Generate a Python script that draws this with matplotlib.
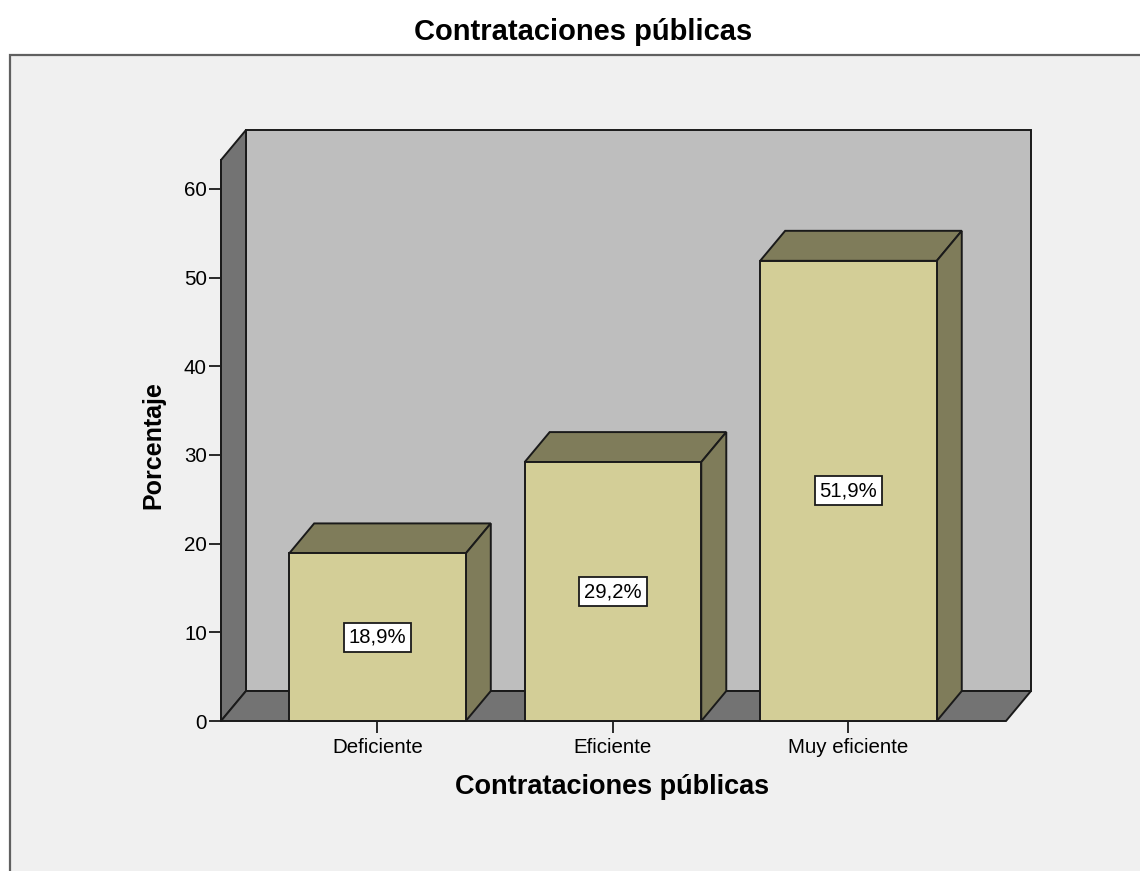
import matplotlib
matplotlib.use("Agg")
import matplotlib.pyplot as plt
from matplotlib.patches import Polygon, Rectangle

# values
categories = ["Deficiente", "Eficiente", "Muy eficiente"]
percentages = [18.9, 29.2, 51.9]
bar_labels = ["18,9%", "29,2%", "51,9%"]
y_ticks = [0, 10, 20, 30, 40, 50, 60]
title = "Contrataciones públicas"
x_label = "Contrataciones públicas"
y_label = "Porcentaje"

W, H = 1140, 871
wall = "#bebebe"
floor = "#737373"
front = "#d3ce97"
side = "#7f7c5a"
panel = "#f0f0f0"
edge = "#1a1a1a"

plt.rcParams["font.family"] = ["Liberation Sans", "DejaVu Sans"]

fig = plt.figure(figsize=(W / 100, H / 100), dpi=100, facecolor="white")

# grey panel behind the chart, cut off by the right and bottom of the image
bg = fig.add_axes([0, 0, 1, 1])
bg.set_xlim(0, W)
bg.set_ylim(H, 0)
bg.axis("off")
bg.add_patch(Rectangle((10, 55), W + 20, H, fc=panel, ec="#606060", lw=1.6))

# axes is the front plane of the 3d box
left, right, bottom, top = 221, 1006, 721, 160
ax = fig.add_axes([left / W, 1 - bottom / H, (right - left) / W, (bottom - top) / H])
ax.patch.set_alpha(0)
ax.set_xlim(-0.6645, 2.669)
ax.set_ylim(0, 63.27)
for s in ["top", "right", "bottom"]:
    ax.spines[s].set_visible(False)
ax.spines["left"].set_color(edge)
ax.spines["left"].set_linewidth(1.4)

dx = 25 / 235.5
dy = 30 / 8.867
x0, x1 = ax.get_xlim()
y0, y1 = ax.get_ylim()


def poly(pts, color, z=1):
    ax.add_patch(Polygon(pts, closed=True, fc=color, ec=edge, lw=1.4, clip_on=False, zorder=z))


# back wall, left wall, floor
poly([(x0 + dx, y0 + dy), (x1 + dx, y0 + dy), (x1 + dx, y1 + dy), (x0 + dx, y1 + dy)], wall)
poly([(x0, y0), (x0 + dx, y0 + dy), (x0 + dx, y1 + dy), (x0, y1)], floor)
poly([(x0, y0), (x1, y0), (x1 + dx, y0 + dy), (x0 + dx, y0 + dy)], floor)

bar_w = 0.75
for i, v in enumerate(percentages):
    a, b = i - bar_w / 2, i + bar_w / 2
    poly([(a, v), (b, v), (b + dx, v + dy), (a + dx, v + dy)], side, 3)
    poly([(b, 0), (b + dx, dy), (b + dx, v + dy), (b, v)], side, 3)
    poly([(a, 0), (b, 0), (b, v), (a, v)], front, 3)
    ax.text(i, v / 2, bar_labels[i], ha="center", va="center", fontsize=14.6, color="black", zorder=5,
            bbox=dict(boxstyle="square,pad=0.25", fc="white", ec=edge, lw=1.3))

ax.set_yticks(y_ticks)
ax.set_xticks(range(len(categories)))
ax.set_xticklabels(categories)
ax.tick_params(axis="y", labelsize=14.8, length=8.6, width=1.3, color=edge, pad=1.5)
ax.tick_params(axis="x", labelsize=14.8, length=8.6, width=1.3, color=edge, pad=3.5, bottom=True)

fig.text(583 / W, 1 - 32 / H, title, ha="center", va="center", fontsize=21, fontweight="bold")
fig.text(612.5 / W, 1 - 787 / H, x_label, ha="center", va="center", fontsize=19.5, fontweight="bold")
fig.text(153 / W, 1 - 445 / H, y_label, ha="center", va="center", rotation=90, fontsize=18, fontweight="bold")

fig.savefig("out.png", dpi=100)
